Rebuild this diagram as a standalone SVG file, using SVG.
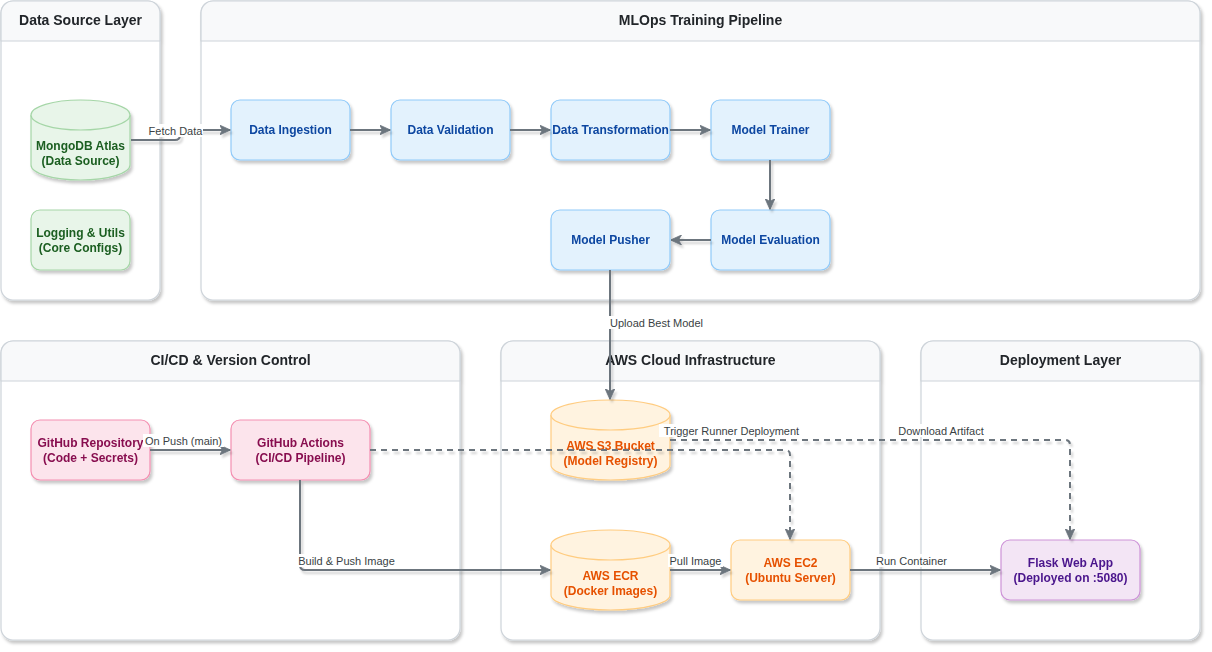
<svg xmlns="http://www.w3.org/2000/svg" width="1212" height="652" viewBox="0 0 1212 652">
<defs>
<filter id="sh" x="-20%" y="-20%" width="140%" height="150%">
<feDropShadow dx="2" dy="3" stdDeviation="1.5" flood-color="#000" flood-opacity="0.22"/>
</filter>
<filter id="esh" x="-5%" y="-5%" width="110%" height="110%">
<feDropShadow dx="2" dy="3" stdDeviation="1.2" flood-color="#000" flood-opacity="0.18"/>
</filter>
<marker id="arr" viewBox="0 0 11 10" refX="10.5" refY="5" markerWidth="11" markerHeight="10" markerUnits="userSpaceOnUse" orient="auto">
<path d="M0,0 L11,5 L0,10 L3,5 Z" fill="#6c757d" stroke="#6c757d" stroke-width="0.8" stroke-linejoin="miter"/>
</marker>
<style>
.cont{fill:#ffffff;stroke:#ced4da;stroke-width:1.2}
.hdr{fill:#f8f9fa;stroke:#ced4da;stroke-width:1.2}
.ttl{font-family:"Liberation Sans",Arial,sans-serif;font-size:14px;font-weight:bold;fill:#212529;text-anchor:middle}
.nt{font-family:"Liberation Sans",Arial,sans-serif;font-size:12px;font-weight:bold;text-anchor:middle}
.blue{fill:#e3f2fd;stroke:#90caf9;stroke-width:1.2}
.blue-t{fill:#0d47a1}
.green{fill:#e8f5e9;stroke:#a5d6a7;stroke-width:1.2}
.green-t{fill:#1b5e20}
.pink{fill:#fce4ec;stroke:#f48fb1;stroke-width:1.2}
.pink-t{fill:#880e4f}
.orange{fill:#fff3e0;stroke:#ffcc80;stroke-width:1.2}
.orange-t{fill:#e65100}
.purple{fill:#f3e5f5;stroke:#ce93d8;stroke-width:1.2}
.purple-t{fill:#4a148c}
.e{fill:none;stroke:#6c757d;stroke-width:2;marker-end:url(#arr)}
.d{stroke-dasharray:6 5}
.lb{font-family:"Liberation Sans",Arial,sans-serif;font-size:11px;fill:#3a3f44;text-anchor:middle}
.lbg{fill:#ffffff}
</style>
</defs>

<!-- Containers -->
<g id="container-data-source" filter="url(#sh)">
<rect class="cont" x="1" y="1" width="159" height="299" rx="12"/>
<path class="hdr" d="M1,13 A12,12 0 0 1 13,1 H148 A12,12 0 0 1 160,13 V41 H1 Z"/>
<text class="ttl" x="80.5" y="25">Data Source Layer</text>
</g>
<g id="container-mlops" filter="url(#sh)">
<rect class="cont" x="201" y="1" width="999" height="299" rx="12"/>
<path class="hdr" d="M201,13 A12,12 0 0 1 213,1 H1188 A12,12 0 0 1 1200,13 V41 H201 Z"/>
<text class="ttl" x="700.5" y="25">MLOps Training Pipeline</text>
</g>
<g id="container-cicd" filter="url(#sh)">
<rect class="cont" x="1" y="341" width="459" height="299" rx="12"/>
<path class="hdr" d="M1,353 A12,12 0 0 1 13,341 H448 A12,12 0 0 1 460,353 V381 H1 Z"/>
<text class="ttl" x="230.5" y="365">CI/CD &amp; Version Control</text>
</g>
<g id="container-aws" filter="url(#sh)">
<rect class="cont" x="501" y="341" width="379" height="299" rx="12"/>
<path class="hdr" d="M501,353 A12,12 0 0 1 513,341 H868 A12,12 0 0 1 880,353 V381 H501 Z"/>
<text class="ttl" x="690.5" y="365">AWS Cloud Infrastructure</text>
</g>
<g id="container-deploy" filter="url(#sh)">
<rect class="cont" x="921" y="341" width="279" height="299" rx="12"/>
<path class="hdr" d="M921,353 A12,12 0 0 1 933,341 H1188 A12,12 0 0 1 1200,353 V381 H921 Z"/>
<text class="ttl" x="1060.5" y="365">Deployment Layer</text>
</g>

<!-- Nodes -->
<g id="node-mongodb" filter="url(#sh)">
<path class="green" d="M31,115 A49.5,15 0 0 1 130,115 V165 A49.5,15 0 0 1 31,165 Z"/>
<path class="green" d="M31,115 A49.5,15 0 0 0 130,115" fill="none"/>
<text class="nt green-t" x="80.5" y="150">MongoDB Atlas</text>
<text class="nt green-t" x="80.5" y="165">(Data Source)</text>
</g>
<g id="node-logging" filter="url(#sh)">
<rect class="green" x="31" y="210" width="99" height="60" rx="9"/>
<text class="nt green-t" x="80.5" y="236.5">Logging &amp; Utils</text>
<text class="nt green-t" x="80.5" y="251.5">(Core Configs)</text>
</g>
<g id="node-ingestion" filter="url(#sh)">
<rect class="blue" x="231" y="100" width="119" height="60" rx="9"/>
<text class="nt blue-t" x="290.5" y="134">Data Ingestion</text>
</g>
<g id="node-validation" filter="url(#sh)">
<rect class="blue" x="391" y="100" width="119" height="60" rx="9"/>
<text class="nt blue-t" x="450.5" y="134">Data Validation</text>
</g>
<g id="node-transformation" filter="url(#sh)">
<rect class="blue" x="551" y="100" width="119" height="60" rx="9"/>
<text class="nt blue-t" x="610.5" y="134">Data Transformation</text>
</g>
<g id="node-trainer" filter="url(#sh)">
<rect class="blue" x="711" y="100" width="119" height="60" rx="9"/>
<text class="nt blue-t" x="770.5" y="134">Model Trainer</text>
</g>
<g id="node-evaluation" filter="url(#sh)">
<rect class="blue" x="711" y="210" width="119" height="60" rx="9"/>
<text class="nt blue-t" x="770.5" y="244">Model Evaluation</text>
</g>
<g id="node-pusher" filter="url(#sh)">
<rect class="blue" x="551" y="210" width="119" height="60" rx="9"/>
<text class="nt blue-t" x="610.5" y="244">Model Pusher</text>
</g>
<g id="node-github-repo" filter="url(#sh)">
<rect class="pink" x="31" y="420" width="119" height="60" rx="9"/>
<text class="nt pink-t" x="90.5" y="446.5">GitHub Repository</text>
<text class="nt pink-t" x="90.5" y="461.5">(Code + Secrets)</text>
</g>
<g id="node-github-actions" filter="url(#sh)">
<rect class="pink" x="231" y="420" width="139" height="60" rx="9"/>
<text class="nt pink-t" x="300.5" y="446.5">GitHub Actions</text>
<text class="nt pink-t" x="300.5" y="461.5">(CI/CD Pipeline)</text>
</g>
<g id="node-s3" filter="url(#sh)">
<path class="orange" d="M551,415 A59.5,15 0 0 1 670,415 V465 A59.5,15 0 0 1 551,465 Z"/>
<path class="orange" d="M551,415 A59.5,15 0 0 0 670,415" fill="none"/>
<text class="nt orange-t" x="610.5" y="450">AWS S3 Bucket</text>
<text class="nt orange-t" x="610.5" y="465">(Model Registry)</text>
</g>
<g id="node-ecr" filter="url(#sh)">
<path class="orange" d="M551,545 A59.5,15 0 0 1 670,545 V595 A59.5,15 0 0 1 551,595 Z"/>
<path class="orange" d="M551,545 A59.5,15 0 0 0 670,545" fill="none"/>
<text class="nt orange-t" x="610.5" y="580">AWS ECR</text>
<text class="nt orange-t" x="610.5" y="595">(Docker Images)</text>
</g>
<g id="node-ec2" filter="url(#sh)">
<rect class="orange" x="731" y="540" width="119" height="60" rx="9"/>
<text class="nt orange-t" x="790.5" y="566.5">AWS EC2</text>
<text class="nt orange-t" x="790.5" y="581.5">(Ubuntu Server)</text>
</g>
<g id="node-flask" filter="url(#sh)">
<rect class="purple" x="1001" y="540" width="139" height="60" rx="9"/>
<text class="nt purple-t" x="1070.5" y="566.5">Flask Web App</text>
<text class="nt purple-t" x="1070.5" y="581.5">(Deployed on :5080)</text>
</g>

<!-- Connectors -->
<g id="connectors">
<g filter="url(#esh)">
<path class="e" d="M131,140 H175 Q180,140 180,135 Q180,130 185,130 H230"/>
<path class="e" d="M350,130 H390"/>
<path class="e" d="M510,130 H550"/>
<path class="e" d="M670,130 H710"/>
<path class="e" d="M770,160 V209"/>
<path class="e" d="M711,240 H671"/>
<path class="e" d="M610,270 V399"/>
<path class="e" d="M150,450 H230"/>
<path class="e" d="M300,480 V565 Q300,570 305,570 H550"/>
<path class="e" d="M670,570 H730"/>
<path class="e" d="M850,570 H1000"/>
<path class="e d" d="M370,450 H785 Q790,450 790,455 V539"/>
<path class="e d" d="M670,440 H1065 Q1070,440 1070,445 V539"/>
</g>
<g id="edge-labels">
<rect class="lbg" x="148" y="124" width="55" height="13"/>
<text class="lb" x="175.5" y="135">Fetch Data</text>
<rect class="lbg" x="607" y="316" width="99" height="13"/>
<text class="lb" x="656.5" y="327">Upload Best Model</text>
<rect class="lbg" x="143" y="434" width="81" height="13"/>
<text class="lb" x="183.5" y="445">On Push (main)</text>
<rect class="lbg" x="295" y="554" width="103" height="13"/>
<text class="lb" x="346.5" y="565">Build &amp; Push Image</text>
<rect class="lbg" x="659" y="424" width="145" height="13"/>
<text class="lb" x="731.5" y="435">Trigger Runner Deployment</text>
<rect class="lbg" x="894" y="424" width="94" height="13"/>
<text class="lb" x="941" y="435">Download Artifact</text>
<rect class="lbg" x="668" y="554" width="55" height="13"/>
<text class="lb" x="695.5" y="565">Pull Image</text>
<rect class="lbg" x="873" y="554" width="77" height="13"/>
<text class="lb" x="911.5" y="565">Run Container</text>
</g>
</g>
</svg>
